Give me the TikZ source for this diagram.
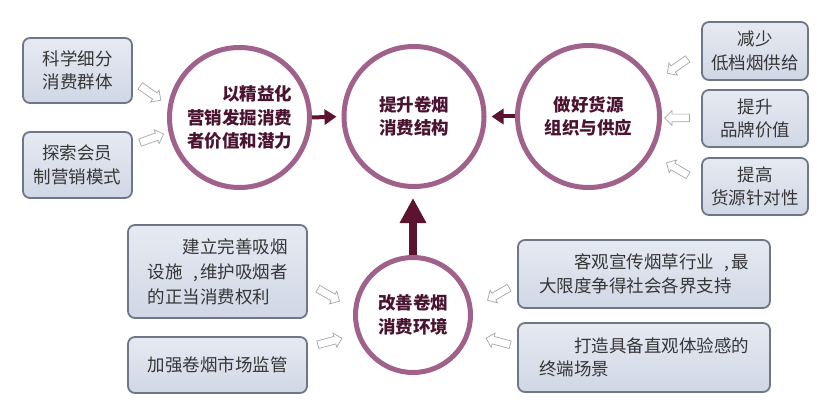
\documentclass[tikz,border=0pt]{standalone}
\usepackage{fontspec}
\newfontfamily\cjk{Noto Sans CJK SC}
\usetikzlibrary{arrows.meta,shapes.arrows}
\definecolor{ringc}{HTML}{A0628A}
\definecolor{maroon}{HTML}{5B1330}
\definecolor{ctext}{HTML}{4A1430}
\definecolor{btext}{HTML}{363636}
\definecolor{bborder}{HTML}{6F7686}
\definecolor{btop}{HTML}{E6EAF2}
\definecolor{bbot}{HTML}{D0D7E5}
\newcommand{\cm}{\makebox[1em][r]{,\hspace{0.12em}}}
\tikzset{
  boxnode/.style={draw=bborder, line width=1.8pt, rounded corners=7pt, top color=btop, bottom color=bbot,
    text=btext, font=\cjk\fontsize{17.5pt}{23.5pt}\selectfont, inner sep=4pt},
  ring/.style={circle, draw=ringc, line width=5pt, fill=white, text=ctext,
    font=\cjk\bfseries\fontsize{17.5pt}{23.5pt}\selectfont, inner sep=2pt},
  mainarrow/.style={draw=maroon, line width=4pt, -{Triangle[width=15pt,length=12pt]}},
  hollow/.style={single arrow, draw=gray!70, fill=white, line width=0.7pt, minimum height=25pt,
    minimum width=14pt, single arrow head extend=3.5pt, inner xsep=0pt, inner ysep=3.5pt}
}
\begin{document}
\begin{tikzpicture}[x=1pt,y=-1pt]
\useasboundingbox (0,0) rectangle (838,409);
\fill[white] (0,0) rectangle (838,409);

% circles
\node[ring, minimum size=140pt, align=left] (C1) at (239.5,117.5) {\hspace*{2em}以精益化\\营销发掘消费\\者价值和潜力};
\node[ring, minimum size=140pt, align=center] (C2) at (414,116.5) {提升卷烟\\消费结构};
\node[ring, minimum size=142pt, align=center] (C3) at (588.5,116.5) {做好货源\\组织与供应};
\node[ring, minimum size=115pt, align=center] (C4) at (413,315) {改善卷烟\\消费环境};

% main arrows
\draw[mainarrow, shorten >=5pt] (C1.east) -- (C2.west);
\draw[mainarrow, shorten >=5pt] (C3.west) -- (C2.east);
\draw[draw=maroon, line width=8pt, -{Triangle[width=25pt,length=25pt]}, shorten >=9pt]
  (C4.north) -- (C4.north |- C2.south);

% boxes
\node[boxnode, minimum width=109pt, minimum height=65pt, align=center] (L1) at (77.5,70.5) {科学细分\\消费群体};
\node[boxnode, minimum width=109pt, minimum height=66pt, align=center] (L2) at (77.5,165) {探索会员\\制营销模式};
\node[boxnode, minimum width=106pt, minimum height=58pt, align=center] (R1) at (755,51) {减少\\低档烟供给};
\node[boxnode, minimum width=106pt, minimum height=57pt, align=center] (R2) at (755,118.5) {提升\\品牌价值};
\node[boxnode, minimum width=106pt, minimum height=57pt, align=center] (R3) at (755,186.5) {提高\\货源针对性};
\node[boxnode, minimum width=179pt, minimum height=93pt, align=left, font=\cjk\fontsize{17.5pt}{25pt}\selectfont] (B1) at (217.5,271.5)
  {\hspace*{2em}建立完善吸烟\\设施\cm 维护吸烟者\\的正当消费权利};
\node[boxnode, minimum width=179pt, minimum height=56pt, align=center] (B2) at (217.5,365) {加强卷烟市场监管};
\node[boxnode, minimum width=252pt, minimum height=68pt, align=left] (B3) at (644,274)
  {\hspace*{2em}客观宣传烟草行业\cm 最\\大限度争得社会各界支持\hspace*{1em}};
\node[boxnode, minimum width=252pt, minimum height=69pt, align=left] (B4) at (644,357.5)
  {\hspace*{2em}打造具备直观体验感的\\终端场景};

% hollow arrows
\node[hollow, rotate=-35] (a1) at (149,92) {};
\node[hollow, rotate=20] (a2) at (150,139) {};
\node[hollow, rotate=215] (a3) at (679,65) {};
\node[hollow, rotate=180] (a4) at (679,118) {};
\node[hollow, rotate=150] (a5) at (679,170) {};
\node[hollow, rotate=-30] (a6) at (327,294) {};
\node[hollow, rotate=15] (a7) at (328,342) {};
\node[hollow, rotate=210] (a8) at (500,293) {};
\node[hollow, rotate=165] (a9) at (500,342) {};
\end{tikzpicture}
\end{document}
